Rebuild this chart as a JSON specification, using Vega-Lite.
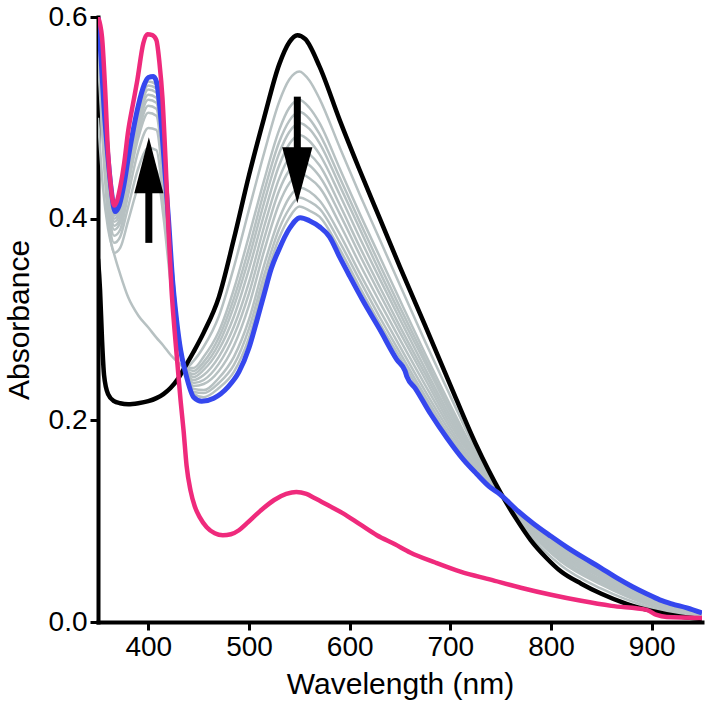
{
  "$schema": "https://vega.github.io/schema/vega-lite/v6.json",
  "width": 604,
  "height": 605,
  "autosize": {"type": "none"},
  "padding": {"left": 98, "top": 17, "right": 6, "bottom": 81},
  "background": "white",
  "config": {
    "view": {"stroke": null},
    "font": "Liberation Sans",
    "axis": {
      "grid": false,
      "domainColor": "black",
      "domainWidth": 4,
      "domainCap": "square",
      "tickColor": "black",
      "tickWidth": 3,
      "tickSize": 8,
      "labelColor": "black",
      "labelFontSize": 28,
      "labelFont": "Liberation Sans",
      "labelPadding": 3,
      "labelFlush": false,
      "labelOverlap": false,
      "titleColor": "black",
      "titleFontSize": 30,
      "titleFont": "Liberation Sans",
      "titleFontWeight": "normal"
    }
  },
  "datasets": {
    "gray": [
      {"s":"g1","w":350,"a":0.5},{"s":"g1","w":355,"a":0.43},{"s":"g1","w":360,"a":0.39},{"s":"g1","w":366,"a":0.365},{"s":"g1","w":372,"a":0.345},{"s":"g1","w":380,"a":0.322},{"s":"g1","w":390,"a":0.304},{"s":"g1","w":400,"a":0.292},{"s":"g1","w":408,"a":0.282},{"s":"g1","w":415,"a":0.274},{"s":"g1","w":422,"a":0.265},{"s":"g1","w":430,"a":0.257},{"s":"g1","w":437,"a":0.252},{"s":"g1","w":445,"a":0.259},{"s":"g1","w":455,"a":0.273},{"s":"g1","w":470,"a":0.303},{"s":"g1","w":485,"a":0.352},{"s":"g1","w":500,"a":0.409},{"s":"g1","w":515,"a":0.465},{"s":"g1","w":530,"a":0.516},{"s":"g1","w":540,"a":0.538},{"s":"g1","w":550,"a":0.546},{"s":"g1","w":560,"a":0.537},{"s":"g1","w":570,"a":0.519},{"s":"g1","w":590,"a":0.471},{"s":"g1","w":610,"a":0.424},{"s":"g1","w":630,"a":0.379},{"s":"g1","w":650,"a":0.334},{"s":"g1","w":675,"a":0.278},{"s":"g1","w":700,"a":0.224},{"s":"g1","w":725,"a":0.171},{"s":"g1","w":750,"a":0.128},{"s":"g1","w":780,"a":0.085},{"s":"g1","w":810,"a":0.056},{"s":"g1","w":850,"a":0.033},{"s":"g1","w":900,"a":0.014},{"s":"g1","w":950,"a":0.004},
      {"s":"g2","w":350,"a":0.56},{"s":"g2","w":355,"a":0.47},{"s":"g2","w":360,"a":0.4},{"s":"g2","w":366,"a":0.366},{"s":"g2","w":372,"a":0.371},{"s":"g2","w":380,"a":0.398},{"s":"g2","w":390,"a":0.432},{"s":"g2","w":400,"a":0.45},{"s":"g2","w":408,"a":0.448},{"s":"g2","w":415,"a":0.402},{"s":"g2","w":422,"a":0.337},{"s":"g2","w":430,"a":0.276},{"s":"g2","w":437,"a":0.252},{"s":"g2","w":445,"a":0.252},{"s":"g2","w":455,"a":0.263},{"s":"g2","w":470,"a":0.288},{"s":"g2","w":485,"a":0.33},{"s":"g2","w":500,"a":0.383},{"s":"g2","w":515,"a":0.438},{"s":"g2","w":530,"a":0.488},{"s":"g2","w":540,"a":0.51},{"s":"g2","w":550,"a":0.518},{"s":"g2","w":560,"a":0.51},{"s":"g2","w":570,"a":0.495},{"s":"g2","w":590,"a":0.45},{"s":"g2","w":610,"a":0.405},{"s":"g2","w":630,"a":0.362},{"s":"g2","w":650,"a":0.319},{"s":"g2","w":675,"a":0.266},{"s":"g2","w":700,"a":0.215},{"s":"g2","w":725,"a":0.167},{"s":"g2","w":750,"a":0.128},{"s":"g2","w":780,"a":0.088},{"s":"g2","w":810,"a":0.06},{"s":"g2","w":850,"a":0.037},{"s":"g2","w":900,"a":0.016},{"s":"g2","w":950,"a":0.005},
      {"s":"g3","w":350,"a":0.57},{"s":"g3","w":355,"a":0.48},{"s":"g3","w":360,"a":0.41},{"s":"g3","w":366,"a":0.376},{"s":"g3","w":372,"a":0.382},{"s":"g3","w":380,"a":0.412},{"s":"g3","w":390,"a":0.45},{"s":"g3","w":400,"a":0.47},{"s":"g3","w":408,"a":0.468},{"s":"g3","w":415,"a":0.417},{"s":"g3","w":422,"a":0.346},{"s":"g3","w":430,"a":0.279},{"s":"g3","w":437,"a":0.252},{"s":"g3","w":445,"a":0.249},{"s":"g3","w":455,"a":0.258},{"s":"g3","w":470,"a":0.282},{"s":"g3","w":485,"a":0.321},{"s":"g3","w":500,"a":0.371},{"s":"g3","w":515,"a":0.427},{"s":"g3","w":530,"a":0.476},{"s":"g3","w":540,"a":0.497},{"s":"g3","w":550,"a":0.506},{"s":"g3","w":560,"a":0.499},{"s":"g3","w":570,"a":0.484},{"s":"g3","w":590,"a":0.441},{"s":"g3","w":610,"a":0.397},{"s":"g3","w":630,"a":0.354},{"s":"g3","w":650,"a":0.312},{"s":"g3","w":675,"a":0.261},{"s":"g3","w":700,"a":0.211},{"s":"g3","w":725,"a":0.165},{"s":"g3","w":750,"a":0.128},{"s":"g3","w":780,"a":0.089},{"s":"g3","w":810,"a":0.062},{"s":"g3","w":850,"a":0.039},{"s":"g3","w":900,"a":0.017},{"s":"g3","w":950,"a":0.006},
      {"s":"g4","w":350,"a":0.575},{"s":"g4","w":355,"a":0.49},{"s":"g4","w":360,"a":0.42},{"s":"g4","w":366,"a":0.383},{"s":"g4","w":372,"a":0.389},{"s":"g4","w":380,"a":0.424},{"s":"g4","w":390,"a":0.467},{"s":"g4","w":400,"a":0.49},{"s":"g4","w":408,"a":0.488},{"s":"g4","w":415,"a":0.433},{"s":"g4","w":422,"a":0.355},{"s":"g4","w":430,"a":0.281},{"s":"g4","w":437,"a":0.251},{"s":"g4","w":445,"a":0.246},{"s":"g4","w":455,"a":0.254},{"s":"g4","w":470,"a":0.276},{"s":"g4","w":485,"a":0.313},{"s":"g4","w":500,"a":0.361},{"s":"g4","w":515,"a":0.416},{"s":"g4","w":530,"a":0.465},{"s":"g4","w":540,"a":0.486},{"s":"g4","w":550,"a":0.495},{"s":"g4","w":560,"a":0.489},{"s":"g4","w":570,"a":0.475},{"s":"g4","w":590,"a":0.433},{"s":"g4","w":610,"a":0.39},{"s":"g4","w":630,"a":0.347},{"s":"g4","w":650,"a":0.306},{"s":"g4","w":675,"a":0.257},{"s":"g4","w":700,"a":0.208},{"s":"g4","w":725,"a":0.164},{"s":"g4","w":750,"a":0.128},{"s":"g4","w":780,"a":0.09},{"s":"g4","w":810,"a":0.063},{"s":"g4","w":850,"a":0.04},{"s":"g4","w":900,"a":0.018},{"s":"g4","w":950,"a":0.006},
      {"s":"g5","w":350,"a":0.58},{"s":"g5","w":355,"a":0.5},{"s":"g5","w":360,"a":0.43},{"s":"g5","w":366,"a":0.389},{"s":"g5","w":372,"a":0.396},{"s":"g5","w":380,"a":0.434},{"s":"g5","w":390,"a":0.48},{"s":"g5","w":400,"a":0.505},{"s":"g5","w":408,"a":0.502},{"s":"g5","w":415,"a":0.444},{"s":"g5","w":422,"a":0.361},{"s":"g5","w":430,"a":0.283},{"s":"g5","w":437,"a":0.251},{"s":"g5","w":445,"a":0.243},{"s":"g5","w":455,"a":0.25},{"s":"g5","w":470,"a":0.27},{"s":"g5","w":485,"a":0.303},{"s":"g5","w":500,"a":0.35},{"s":"g5","w":515,"a":0.404},{"s":"g5","w":530,"a":0.453},{"s":"g5","w":540,"a":0.474},{"s":"g5","w":550,"a":0.483},{"s":"g5","w":560,"a":0.477},{"s":"g5","w":570,"a":0.464},{"s":"g5","w":590,"a":0.424},{"s":"g5","w":610,"a":0.381},{"s":"g5","w":630,"a":0.34},{"s":"g5","w":650,"a":0.3},{"s":"g5","w":675,"a":0.251},{"s":"g5","w":700,"a":0.204},{"s":"g5","w":725,"a":0.162},{"s":"g5","w":750,"a":0.127},{"s":"g5","w":780,"a":0.091},{"s":"g5","w":810,"a":0.065},{"s":"g5","w":850,"a":0.042},{"s":"g5","w":900,"a":0.019},{"s":"g5","w":950,"a":0.006},
      {"s":"g6","w":350,"a":0.585},{"s":"g6","w":355,"a":0.51},{"s":"g6","w":360,"a":0.44},{"s":"g6","w":366,"a":0.393},{"s":"g6","w":372,"a":0.4},{"s":"g6","w":380,"a":0.439},{"s":"g6","w":390,"a":0.486},{"s":"g6","w":400,"a":0.512},{"s":"g6","w":408,"a":0.509},{"s":"g6","w":415,"a":0.449},{"s":"g6","w":422,"a":0.364},{"s":"g6","w":430,"a":0.284},{"s":"g6","w":437,"a":0.25},{"s":"g6","w":445,"a":0.24},{"s":"g6","w":455,"a":0.245},{"s":"g6","w":470,"a":0.263},{"s":"g6","w":485,"a":0.293},{"s":"g6","w":500,"a":0.337},{"s":"g6","w":515,"a":0.392},{"s":"g6","w":530,"a":0.44},{"s":"g6","w":540,"a":0.461},{"s":"g6","w":550,"a":0.47},{"s":"g6","w":560,"a":0.464},{"s":"g6","w":570,"a":0.453},{"s":"g6","w":590,"a":0.414},{"s":"g6","w":610,"a":0.372},{"s":"g6","w":630,"a":0.332},{"s":"g6","w":650,"a":0.293},{"s":"g6","w":675,"a":0.246},{"s":"g6","w":700,"a":0.2},{"s":"g6","w":725,"a":0.16},{"s":"g6","w":750,"a":0.127},{"s":"g6","w":780,"a":0.093},{"s":"g6","w":810,"a":0.067},{"s":"g6","w":850,"a":0.044},{"s":"g6","w":900,"a":0.02},{"s":"g6","w":950,"a":0.007},
      {"s":"g7","w":350,"a":0.59},{"s":"g7","w":355,"a":0.515},{"s":"g7","w":360,"a":0.445},{"s":"g7","w":366,"a":0.397},{"s":"g7","w":372,"a":0.404},{"s":"g7","w":380,"a":0.444},{"s":"g7","w":390,"a":0.492},{"s":"g7","w":400,"a":0.518},{"s":"g7","w":408,"a":0.515},{"s":"g7","w":415,"a":0.454},{"s":"g7","w":422,"a":0.367},{"s":"g7","w":430,"a":0.285},{"s":"g7","w":437,"a":0.25},{"s":"g7","w":445,"a":0.237},{"s":"g7","w":455,"a":0.24},{"s":"g7","w":470,"a":0.256},{"s":"g7","w":485,"a":0.284},{"s":"g7","w":500,"a":0.326},{"s":"g7","w":515,"a":0.38},{"s":"g7","w":530,"a":0.428},{"s":"g7","w":540,"a":0.448},{"s":"g7","w":550,"a":0.458},{"s":"g7","w":560,"a":0.453},{"s":"g7","w":570,"a":0.442},{"s":"g7","w":590,"a":0.405},{"s":"g7","w":610,"a":0.364},{"s":"g7","w":630,"a":0.325},{"s":"g7","w":650,"a":0.287},{"s":"g7","w":675,"a":0.241},{"s":"g7","w":700,"a":0.196},{"s":"g7","w":725,"a":0.158},{"s":"g7","w":750,"a":0.127},{"s":"g7","w":780,"a":0.094},{"s":"g7","w":810,"a":0.069},{"s":"g7","w":850,"a":0.045},{"s":"g7","w":900,"a":0.021},{"s":"g7","w":950,"a":0.007},
      {"s":"g8","w":350,"a":0.59},{"s":"g8","w":355,"a":0.52},{"s":"g8","w":360,"a":0.45},{"s":"g8","w":366,"a":0.4},{"s":"g8","w":372,"a":0.407},{"s":"g8","w":380,"a":0.447},{"s":"g8","w":390,"a":0.497},{"s":"g8","w":400,"a":0.523},{"s":"g8","w":408,"a":0.52},{"s":"g8","w":415,"a":0.458},{"s":"g8","w":422,"a":0.369},{"s":"g8","w":430,"a":0.285},{"s":"g8","w":437,"a":0.25},{"s":"g8","w":445,"a":0.234},{"s":"g8","w":455,"a":0.236},{"s":"g8","w":470,"a":0.249},{"s":"g8","w":485,"a":0.274},{"s":"g8","w":500,"a":0.314},{"s":"g8","w":515,"a":0.368},{"s":"g8","w":530,"a":0.415},{"s":"g8","w":540,"a":0.435},{"s":"g8","w":550,"a":0.445},{"s":"g8","w":560,"a":0.44},{"s":"g8","w":570,"a":0.431},{"s":"g8","w":590,"a":0.395},{"s":"g8","w":610,"a":0.355},{"s":"g8","w":630,"a":0.317},{"s":"g8","w":650,"a":0.28},{"s":"g8","w":675,"a":0.235},{"s":"g8","w":700,"a":0.192},{"s":"g8","w":725,"a":0.155},{"s":"g8","w":750,"a":0.127},{"s":"g8","w":780,"a":0.095},{"s":"g8","w":810,"a":0.071},{"s":"g8","w":850,"a":0.047},{"s":"g8","w":900,"a":0.022},{"s":"g8","w":950,"a":0.008},
      {"s":"g9","w":350,"a":0.595},{"s":"g9","w":355,"a":0.52},{"s":"g9","w":360,"a":0.455},{"s":"g9","w":366,"a":0.403},{"s":"g9","w":372,"a":0.41},{"s":"g9","w":380,"a":0.451},{"s":"g9","w":390,"a":0.501},{"s":"g9","w":400,"a":0.528},{"s":"g9","w":408,"a":0.525},{"s":"g9","w":415,"a":0.462},{"s":"g9","w":422,"a":0.371},{"s":"g9","w":430,"a":0.286},{"s":"g9","w":437,"a":0.249},{"s":"g9","w":445,"a":0.231},{"s":"g9","w":455,"a":0.23},{"s":"g9","w":470,"a":0.242},{"s":"g9","w":485,"a":0.263},{"s":"g9","w":500,"a":0.3},{"s":"g9","w":515,"a":0.354},{"s":"g9","w":530,"a":0.4},{"s":"g9","w":540,"a":0.421},{"s":"g9","w":550,"a":0.431},{"s":"g9","w":560,"a":0.427},{"s":"g9","w":570,"a":0.418},{"s":"g9","w":590,"a":0.385},{"s":"g9","w":610,"a":0.346},{"s":"g9","w":630,"a":0.309},{"s":"g9","w":650,"a":0.273},{"s":"g9","w":675,"a":0.229},{"s":"g9","w":700,"a":0.188},{"s":"g9","w":725,"a":0.153},{"s":"g9","w":750,"a":0.127},{"s":"g9","w":780,"a":0.097},{"s":"g9","w":810,"a":0.073},{"s":"g9","w":850,"a":0.049},{"s":"g9","w":900,"a":0.024},{"s":"g9","w":950,"a":0.008},
      {"s":"g10","w":350,"a":0.595},{"s":"g10","w":355,"a":0.525},{"s":"g10","w":360,"a":0.458},{"s":"g10","w":366,"a":0.405},{"s":"g10","w":372,"a":0.413},{"s":"g10","w":380,"a":0.454},{"s":"g10","w":390,"a":0.505},{"s":"g10","w":400,"a":0.532},{"s":"g10","w":408,"a":0.529},{"s":"g10","w":415,"a":0.465},{"s":"g10","w":422,"a":0.373},{"s":"g10","w":430,"a":0.287},{"s":"g10","w":437,"a":0.249},{"s":"g10","w":445,"a":0.228},{"s":"g10","w":455,"a":0.227},{"s":"g10","w":470,"a":0.237},{"s":"g10","w":485,"a":0.255},{"s":"g10","w":500,"a":0.291},{"s":"g10","w":515,"a":0.344},{"s":"g10","w":530,"a":0.39},{"s":"g10","w":540,"a":0.41},{"s":"g10","w":550,"a":0.421},{"s":"g10","w":560,"a":0.417},{"s":"g10","w":570,"a":0.41},{"s":"g10","w":590,"a":0.377},{"s":"g10","w":610,"a":0.339},{"s":"g10","w":630,"a":0.302},{"s":"g10","w":650,"a":0.267},{"s":"g10","w":675,"a":0.224},{"s":"g10","w":700,"a":0.184},{"s":"g10","w":725,"a":0.151},{"s":"g10","w":750,"a":0.127},{"s":"g10","w":780,"a":0.098},{"s":"g10","w":810,"a":0.075},{"s":"g10","w":850,"a":0.05},{"s":"g10","w":900,"a":0.024},{"s":"g10","w":950,"a":0.008},
      {"s":"g11","w":350,"a":0.6},{"s":"g11","w":355,"a":0.527},{"s":"g11","w":360,"a":0.46},{"s":"g11","w":366,"a":0.406},{"s":"g11","w":372,"a":0.414},{"s":"g11","w":380,"a":0.456},{"s":"g11","w":390,"a":0.508},{"s":"g11","w":400,"a":0.536},{"s":"g11","w":408,"a":0.533},{"s":"g11","w":415,"a":0.468},{"s":"g11","w":422,"a":0.375},{"s":"g11","w":430,"a":0.287},{"s":"g11","w":437,"a":0.248},{"s":"g11","w":445,"a":0.226},{"s":"g11","w":455,"a":0.223},{"s":"g11","w":470,"a":0.232},{"s":"g11","w":485,"a":0.248},{"s":"g11","w":500,"a":0.282},{"s":"g11","w":515,"a":0.336},{"s":"g11","w":530,"a":0.381},{"s":"g11","w":540,"a":0.401},{"s":"g11","w":550,"a":0.412},{"s":"g11","w":560,"a":0.408},{"s":"g11","w":570,"a":0.402},{"s":"g11","w":590,"a":0.37},{"s":"g11","w":610,"a":0.332},{"s":"g11","w":630,"a":0.296},{"s":"g11","w":650,"a":0.262},{"s":"g11","w":675,"a":0.22},{"s":"g11","w":700,"a":0.181},{"s":"g11","w":725,"a":0.15},{"s":"g11","w":750,"a":0.127},{"s":"g11","w":780,"a":0.099},{"s":"g11","w":810,"a":0.076},{"s":"g11","w":850,"a":0.052},{"s":"g11","w":900,"a":0.025},{"s":"g11","w":950,"a":0.009}
    ],
    "black": [
      {"w":350,"a":0.36},{"w":352,"a":0.33},{"w":354,"a":0.28},{"w":356,"a":0.245},{"w":360,"a":0.226},{"w":366,"a":0.219},{"w":372,"a":0.217},{"w":380,"a":0.216},{"w":390,"a":0.217},{"w":400,"a":0.219},{"w":408,"a":0.222},{"w":415,"a":0.226},{"w":422,"a":0.232},{"w":430,"a":0.242},{"w":437,"a":0.254},{"w":445,"a":0.268},{"w":455,"a":0.287},{"w":470,"a":0.322},{"w":485,"a":0.38},{"w":500,"a":0.443},{"w":515,"a":0.5},{"w":530,"a":0.553},{"w":540,"a":0.575},{"w":548,"a":0.582},{"w":556,"a":0.578},{"w":570,"a":0.551},{"w":590,"a":0.498},{"w":610,"a":0.448},{"w":630,"a":0.4},{"w":650,"a":0.352},{"w":675,"a":0.294},{"w":700,"a":0.235},{"w":725,"a":0.177},{"w":750,"a":0.128},{"w":765,"a":0.103},{"w":780,"a":0.081},{"w":795,"a":0.064},{"w":810,"a":0.05},{"w":830,"a":0.038},{"w":850,"a":0.028},{"w":875,"a":0.018},{"w":900,"a":0.011},{"w":925,"a":0.006},{"w":950,"a":0.003}
    ],
    "blue": [
      {"w":350,"a":0.6},{"w":353,"a":0.56},{"w":356,"a":0.51},{"w":360,"a":0.46},{"w":363,"a":0.43},{"w":367,"a":0.407},{"w":371,"a":0.413},{"w":376,"a":0.435},{"w":380,"a":0.46},{"w":385,"a":0.488},{"w":390,"a":0.512},{"w":396,"a":0.533},{"w":400,"a":0.54},{"w":405,"a":0.541},{"w":408,"a":0.536},{"w":411,"a":0.515},{"w":414,"a":0.48},{"w":417,"a":0.44},{"w":420,"a":0.4},{"w":424,"a":0.34},{"w":428,"a":0.3},{"w":432,"a":0.27},{"w":437,"a":0.247},{"w":445,"a":0.223},{"w":453,"a":0.219},{"w":465,"a":0.222},{"w":479,"a":0.233},{"w":490,"a":0.248},{"w":500,"a":0.272},{"w":507,"a":0.296},{"w":515,"a":0.325},{"w":522,"a":0.35},{"w":530,"a":0.37},{"w":540,"a":0.39},{"w":551,"a":0.401},{"w":560,"a":0.398},{"w":570,"a":0.392},{"w":580,"a":0.382},{"w":590,"a":0.362},{"w":600,"a":0.343},{"w":613,"a":0.319},{"w":630,"a":0.29},{"w":647,"a":0.26},{"w":655,"a":0.249},{"w":657,"a":0.243},{"w":665,"a":0.232},{"w":680,"a":0.207},{"w":697,"a":0.182},{"w":713,"a":0.161},{"w":726,"a":0.147},{"w":739,"a":0.134},{"w":749,"a":0.127},{"w":765,"a":0.112},{"w":782,"a":0.098},{"w":800,"a":0.085},{"w":816,"a":0.074},{"w":832,"a":0.064},{"w":849,"a":0.054},{"w":865,"a":0.044},{"w":881,"a":0.035},{"w":895,"a":0.028},{"w":908,"a":0.022},{"w":920,"a":0.018},{"w":935,"a":0.014},{"w":950,"a":0.009}
    ],
    "pink": [
      {"w":350,"a":0.6},{"w":354,"a":0.58},{"w":357,"a":0.53},{"w":360,"a":0.465},{"w":363,"a":0.43},{"w":366,"a":0.413},{"w":369,"a":0.418},{"w":372,"a":0.431},{"w":376,"a":0.455},{"w":380,"a":0.487},{"w":385,"a":0.515},{"w":389,"a":0.537},{"w":395,"a":0.574},{"w":399,"a":0.583},{"w":404,"a":0.582},{"w":408,"a":0.577},{"w":411,"a":0.555},{"w":414,"a":0.52},{"w":417,"a":0.46},{"w":420,"a":0.39},{"w":423,"a":0.33},{"w":426,"a":0.29},{"w":429,"a":0.255},{"w":432,"a":0.22},{"w":435,"a":0.19},{"w":438,"a":0.155},{"w":442,"a":0.13},{"w":446,"a":0.115},{"w":451,"a":0.104},{"w":458,"a":0.094},{"w":466,"a":0.088},{"w":474,"a":0.086},{"w":482,"a":0.087},{"w":490,"a":0.091},{"w":498,"a":0.098},{"w":511,"a":0.11},{"w":525,"a":0.121},{"w":537,"a":0.127},{"w":547,"a":0.129},{"w":557,"a":0.127},{"w":565,"a":0.123},{"w":580,"a":0.115},{"w":593,"a":0.108},{"w":610,"a":0.097},{"w":627,"a":0.086},{"w":645,"a":0.077},{"w":660,"a":0.069},{"w":685,"a":0.059},{"w":710,"a":0.05},{"w":740,"a":0.042},{"w":770,"a":0.034},{"w":800,"a":0.027},{"w":830,"a":0.021},{"w":860,"a":0.016},{"w":895,"a":0.012},{"w":905,"a":0.007},{"w":915,"a":0.005},{"w":950,"a":0.004}
    ],
    "shafts": [
      {"w":400.5,"a":0.376,"a2":0.44},
      {"w":548,"a":0.521,"a2":0.46}
    ],
    "upHead": [{"w":400.5,"a":0.453}],
    "downHead": [{"w":548,"a":0.443}]
  },
  "encoding": {
    "x": {
      "field": "w", "type": "quantitative",
      "scale": {"domain": [350, 950], "nice": false, "zero": false},
      "axis": {"values": [400, 500, 600, 700, 800, 900], "title": "Wavelength (nm)", "titlePadding": 8}
    },
    "y": {
      "field": "a", "type": "quantitative",
      "scale": {"domain": [0, 0.6], "nice": false},
      "axis": {"values": [0, 0.2, 0.4, 0.6], "format": ".1f", "title": "Absorbance", "titlePadding": 14}
    }
  },
  "layer": [
    {
      "data": {"name": "gray"},
      "mark": {"type": "line", "color": "#B7C1C2", "strokeWidth": 2.5, "interpolate": "monotone", "clip": true},
      "encoding": {"detail": {"field": "s"}}
    },
    {
      "data": {"name": "black"},
      "mark": {"type": "line", "color": "black", "strokeWidth": 4.5, "interpolate": "monotone", "clip": true},
      "encoding": {}
    },
    {
      "data": {"name": "blue"},
      "mark": {"type": "line", "color": "#3547EE", "strokeWidth": 5, "interpolate": "monotone", "clip": true},
      "encoding": {}
    },
    {
      "data": {"name": "pink"},
      "mark": {"type": "line", "color": "#EF2A7C", "strokeWidth": 4.5, "interpolate": "monotone", "clip": true},
      "encoding": {}
    },
    {
      "data": {"name": "shafts"},
      "mark": {"type": "rule", "color": "black", "strokeWidth": 7},
      "encoding": {"y2": {"field": "a2"}}
    },
    {
      "data": {"name": "upHead"},
      "mark": {"type": "point", "shape": "M0,-1L0.52,1L-0.52,1Z", "size": 3136, "filled": true, "color": "black", "opacity": 1}
    },
    {
      "data": {"name": "downHead"},
      "mark": {"type": "point", "shape": "M0,1L0.54,-1L-0.54,-1Z", "size": 3136, "filled": true, "color": "black", "opacity": 1}
    }
  ]
}
